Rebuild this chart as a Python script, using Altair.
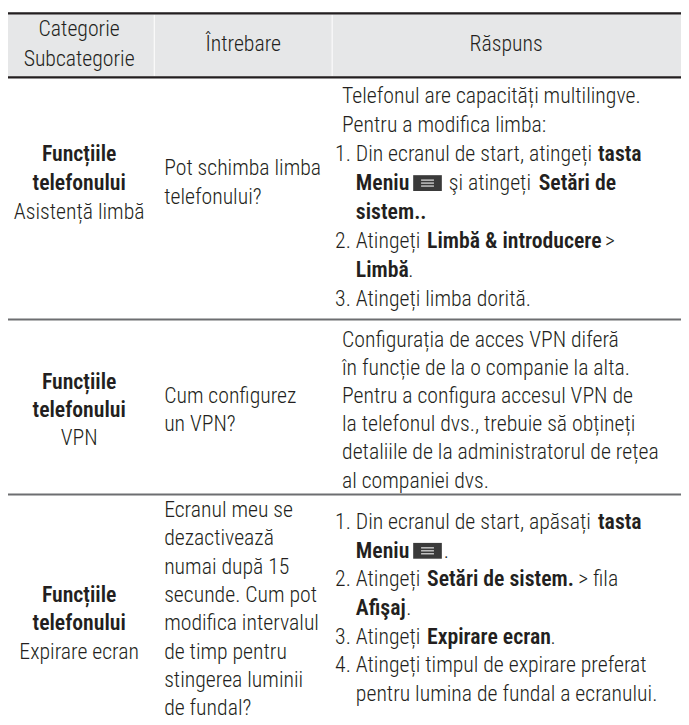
import altair as alt
import pandas as pd

# ---------------- content ----------------
header_left = ["Categorie", "Subcategorie"]
header_mid = "Întrebare"
header_right = "Răspuns"

category_bold = ["Funcțiile", "telefonului"]
subcategories = ["Asistență limbă", "VPN", "Expirare ecran"]

questions = [
    ["Pot schimba limba", "telefonului?"],
    ["Cum configurez", "un VPN?"],
    ["Ecranul meu se", "dezactivează", "numai după 15", "secunde. Cum pot",
     "modifica intervalul", "de timp pentru", "stingerea luminii", "de fundal?"],
]

# answers: list of lines; each line = (kind, [(text, bold), ...])
# kind: "p" paragraph line, "n" numbered first line, "h" hanging continuation
answer_1 = [
    ("p", [("Telefonul are capacități multilingve.", False)]),
    ("p", [("Pentru a modifica limba:", False)]),
    ("n", [("1. Din ecranul de start, atingeți", False), ("tasta", True)]),
    ("h", [("Meniu", True), ("ICON", False), ("şi atingeți", False), ("Setări de", True)]),
    ("h", [("sistem..", True)]),
    ("n", [("2. Atingeți", False), ("Limbă & introducere", True), (">", False)]),
    ("h", [("Limbă", True), (".", False)]),
    ("n", [("3. Atingeți limba dorită.", False)]),
]
answer_2 = [
    ("p", [("Configurația de acces VPN diferă", False)]),
    ("p", [("în funcție de la o companie la alta.", False)]),
    ("p", [("Pentru a configura accesul VPN de", False)]),
    ("p", [("la telefonul dvs., trebuie să obțineți", False)]),
    ("p", [("detaliile de la administratorul de rețea", False)]),
    ("p", [("al companiei dvs.", False)]),
]
answer_3 = [
    ("n", [("1. Din ecranul de start, apăsați", False), ("tasta", True)]),
    ("h", [("Meniu", True), ("ICON", False), (".", False)]),
    ("n", [("2. Atingeți", False), ("Setări de sistem.", True), ("> fila", False)]),
    ("h", [("Afişaj", True), (".", False)]),
    ("n", [("3. Atingeți", False), ("Expirare ecran", True), (".", False)]),
    ("n", [("4. Atingeți timpul de expirare preferat", False)]),
    ("h", [("pentru lumina de fundal a ecranului.", False)]),
]
answers = [answer_1, answer_2, answer_3]

# ---------------- layout (reference pixel space) ----------------
FONT = "Roboto Condensed, Roboto, sans-serif"
FS = 22
TXT = "#231f20"
COL1_C = 80
COL2_X = 166
PARA_X = 346
NUM_X = 339
HANG_X = 360
kind_x = {"p": PARA_X, "n": NUM_X, "h": HANG_X}
ICON_X = (418, 447)

# x starts of the follow-on segments (row, line) -> list per segment
seg_x = {
    (0, 2): [NUM_X, 605],
    (0, 3): [HANG_X, ICON_X, 454, 545],
    (0, 5): [NUM_X, 432, 612],
    (0, 6): [HANG_X, 413],
    (2, 0): [NUM_X, 605],
    (2, 1): [HANG_X, ICON_X, 449],
    (2, 2): [NUM_X, 432, 585],
    (2, 3): [HANG_X, 411],
    (2, 4): [NUM_X, 432, 557],
}
# vertical layout per row: (answer first line y, answer spacing,
#   question first line y, question spacing, category first line y)
row_v = [
    (93, 29.3, 166, 29.3, 151.6),
    (340, 28.4, 396.8, 28.4, 382.6),
    (524, 29.0, 512, 28.6, 598),
]

rows_txt = []
icons = []
def add(x, y, t, bold, align):
    rows_txt.append({"x": x, "y": y, "t": t, "w": "bold" if bold else "normal", "a": align})

# header
add(COL1_C, 25, header_left[0], False, "center")
add(COL1_C, 55, header_left[1], False, "center")
add(246, 40, header_mid, False, "center")
add(512, 40, header_right, False, "center")

for r in range(3):
    a0, asp, q0, qsp, c0 = row_v[r]
    add(COL1_C, c0, category_bold[0], True, "center")
    add(COL1_C, c0 + qsp, category_bold[1], True, "center")
    add(COL1_C, c0 + 2 * qsp, subcategories[r], False, "center")
    for i, q in enumerate(questions[r]):
        add(COL2_X, q0 + i * qsp, q, False, "left")
    for li, (kind, segs) in enumerate(answers[r]):
        y = a0 + li * asp
        xs = seg_x.get((r, li))
        for si, (t, b) in enumerate(segs):
            x = xs[si] if xs else kind_x[kind]
            if t == "ICON":
                icons.append({"x": x[0], "x2": x[1], "y": y - 8, "y2": y + 8})
                continue
            add(x, y, t, b, "left")

txt = pd.DataFrame(rows_txt)
icon_df = pd.DataFrame(icons)
bars = []
for ic in icons:
    for k in (-3, 0, 3):
        bars.append({"x": ic["x"] + 8, "x2": ic["x2"] - 8, "y": (ic["y"] + ic["y2"]) / 2 + k})
bars_df = pd.DataFrame(bars)

hdr_bg = pd.DataFrame([{"x": 8, "x2": 689, "y": 8, "y2": 74}])
hdr_rules = pd.DataFrame([{"x": 8, "x2": 689, "y": 9.2}, {"x": 8, "x2": 689, "y": 74}])
row_rules = pd.DataFrame([{"x": 8, "x2": 689, "y": 319}, {"x": 8, "x2": 689, "y": 496}])
hdr_div = pd.DataFrame([{"x": 156, "y": 10.5, "y2": 72.5}, {"x": 336, "y": 10.5, "y2": 72.5}])

W, H = 681, 717
xs_ = alt.Scale(domain=[8, 689], nice=False, zero=False)
ys_ = alt.Scale(domain=[8, 725], nice=False, zero=False, reverse=True)
X = lambda f="x": alt.X(f"{f}:Q", scale=xs_, axis=None)
Y = lambda f="y": alt.Y(f"{f}:Q", scale=ys_, axis=None)

bg = alt.Chart(hdr_bg).mark_rect(color="#e6e7e8").encode(
    x=X(), x2="x2:Q", y=Y(), y2="y2:Q")
div = alt.Chart(hdr_div).mark_rule(color="#ffffff", strokeWidth=1).encode(
    x=X(), y=Y(), y2="y2:Q")
hr = alt.Chart(hdr_rules).mark_rule(color="#231f20", strokeWidth=2.4).encode(
    x=X(), x2="x2:Q", y=Y())
rr = alt.Chart(row_rules).mark_rule(color="#6d6e71", strokeWidth=2).encode(
    x=X(), x2="x2:Q", y=Y())
icon = alt.Chart(icon_df).mark_rect(color="#3a3a3a").encode(
    x=X(), x2="x2:Q", y=Y(), y2="y2:Q")
icon_bars = alt.Chart(bars_df).mark_rule(color="#d8d8d8", strokeWidth=1.3).encode(
    x=X(), x2="x2:Q", y=Y())

layers = [bg, div, hr, rr, icon, icon_bars]
for w in ("normal", "bold"):
    for a in ("left", "center"):
        sub = txt[(txt.w == w) & (txt.a == a)]
        if len(sub) == 0:
            continue
        layers.append(alt.Chart(sub).mark_text(
            font=FONT, fontSize=FS, fontWeight=300 if w == "normal" else 600,
            align=a, baseline="middle", color=TXT
        ).encode(x=X(), y=Y(), text="t:N"))

chart = alt.layer(*layers).properties(
    width=W, height=H, autosize=alt.AutoSizeParams(type="none")
).configure(padding=0, background="#ffffff").configure_view(strokeWidth=0)

chart.save("out.html", embed_options={"renderer": "svg", "actions": False})
